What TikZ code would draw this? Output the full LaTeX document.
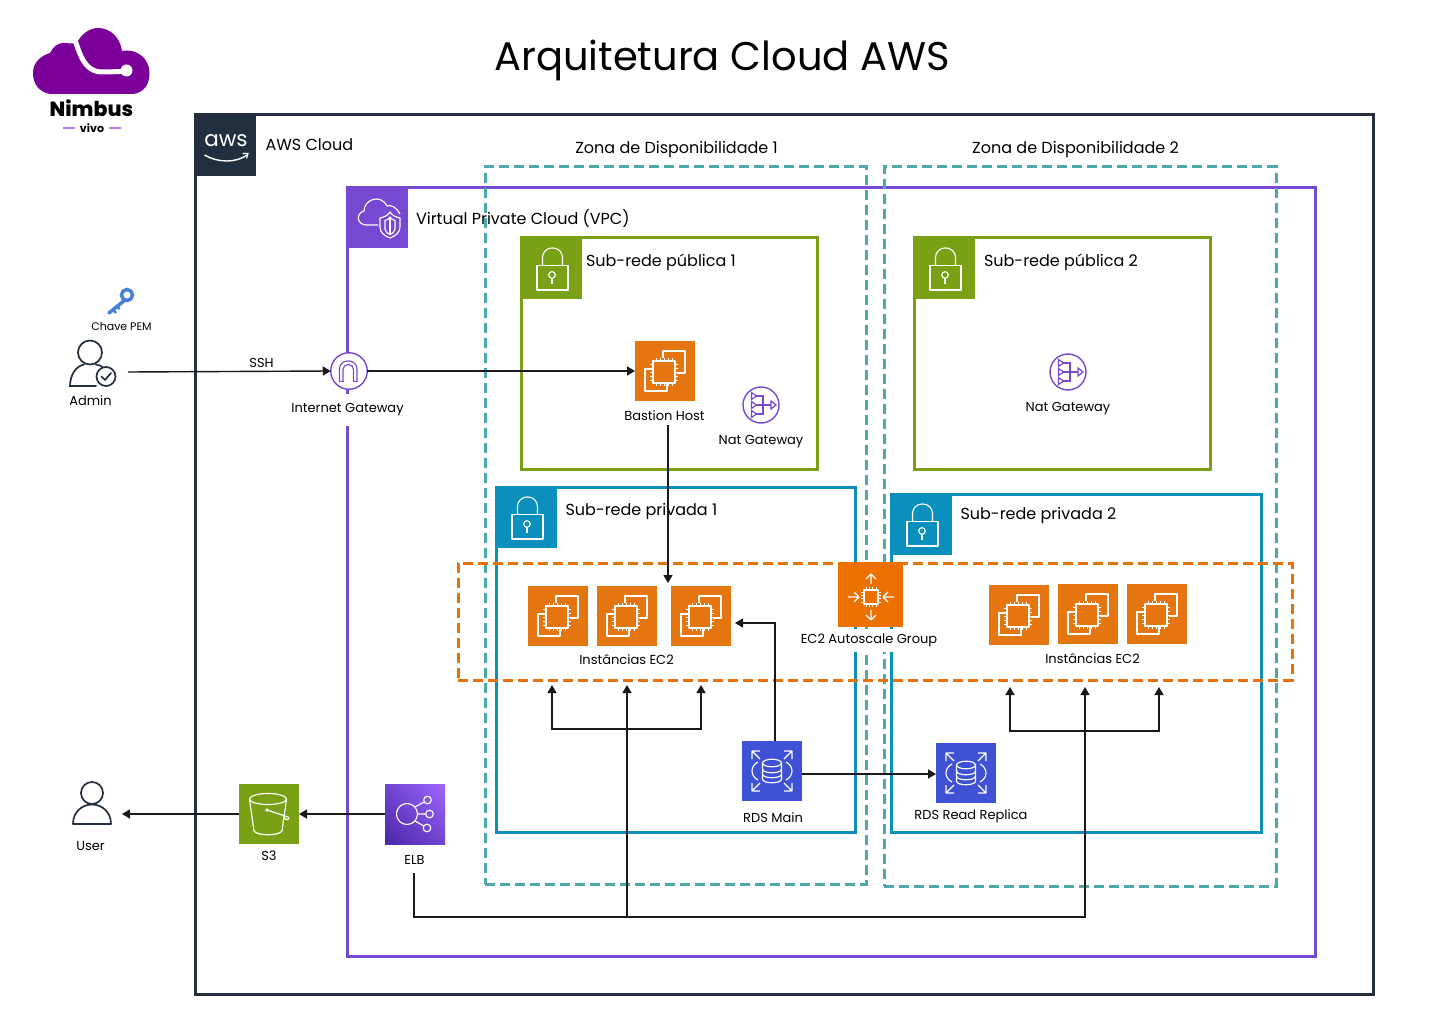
\documentclass[tikz,border=0pt]{standalone}
\usepackage{fontspec}
\setmainfont{Poppins}
\newfontfamily\nimbfont{Poppins ExtraBold}
\usetikzlibrary{arrows.meta,shadings}
\definecolor{awsdark}{HTML}{232F3E}
\definecolor{vpcpurple}{HTML}{7748D2}
\definecolor{aznteal}{HTML}{4CA9A8}
\definecolor{pubgreen}{HTML}{7AA116}
\definecolor{privblue}{HTML}{0B8FBD}
\definecolor{asgorange}{HTML}{E8710A}
\definecolor{ec2orange}{HTML}{E5750F}
\definecolor{asgicon}{HTML}{EC7100}
\definecolor{rdsblue}{HTML}{3F52D5}
\definecolor{logopurple}{HTML}{7B0099}
\definecolor{logolight}{HTML}{B97BDD}
\definecolor{keyblue}{HTML}{4A7FD6}
\definecolor{elbdark}{HTML}{4D27A8}
\definecolor{elbmid}{HTML}{7045D0}
\definecolor{elblight}{HTML}{A166FF}
\newcommand{\fs}[1]{\fontsize{#1}{#1}\selectfont}
\tikzset{
  frame/.style={rectangle,draw,line width=3pt,minimum width=#1,anchor=north west,inner sep=0pt,outer sep=0pt},
  dashbox/.style={rectangle,draw,line width=3pt,dash pattern=on 10pt off 5pt,minimum width=#1,anchor=north west,inner sep=0pt,outer sep=0pt},
  tile/.style={rectangle,minimum size=60pt,anchor=north west,inner sep=0pt,outer sep=0pt,draw=none},
  head/.style={rectangle,minimum size=61pt,anchor=north west,inner sep=0pt,outer sep=0pt,draw=none},
  round/.style={circle,draw=vpcpurple,fill=white,line width=1.4pt,minimum size=36.5pt,inner sep=0pt,outer sep=0pt},
  lbl/.style={inner sep=0pt,outer sep=0pt,font=\fs{13},text=black},
  biglbl/.style={inner sep=0pt,outer sep=0pt,font=\fs{16},text=black},
  masklbl/.style={inner sep=0pt,outer sep=0pt,font=\fs{13},text=black,fill=white,minimum height=#1},
  conn/.style={draw=black!90,line width=1.4pt,-{Triangle[length=8pt,width=9pt]}},
  glyph/.style={draw=white,line width=1.15pt,fill=none,line join=round},
  pics/lock/.style={code={
    \draw[glyph] (16,27.5) rectangle (47,52);
    \draw[glyph,rounded corners=9.5pt] (21.5,27.5)--(21.5,10)--(41.5,10)--(41.5,27.5);
    \draw[glyph] (31,37) circle[radius=3.3pt];
    \draw[glyph] (31,40.3)--(31,46);
  }},
  pics/chip/.style={code={
    \draw[glyph] (28,17)--(28,10)--(50,10)--(50,32)--(42,32);
    \draw[glyph] (18,28)--(10,28)--(10,50)--(32,50)--(32,43);
    \draw[glyph] (18,20) rectangle (40,42);
    \foreach \t in {21,25,29,33,37}{
      \draw[draw=white,line width=.8pt] (\t,17)--(\t,20);
      \draw[draw=white,line width=.8pt] (\t,42)--(\t,45);
    }
    \foreach \t in {23,27,31,35,39}{
      \draw[draw=white,line width=.8pt] (15,\t)--(18,\t);
      \draw[draw=white,line width=.8pt] (40,\t)--(43,\t);
    }
  }},
  pics/natg/.style={code={
    \draw[vpcpurple,line width=1.2pt] (-5,-9)--(2,-9)--(2,9)--(-5,9) (-5,0)--(10,0);
    \foreach \t in {-9,0,9}{
      \draw[vpcpurple,line width=1.2pt,fill=white] (-9.5,\t-3.5)--(-4.5,\t)--(-9.5,\t+3.5)--cycle;
    }
    \draw[vpcpurple,line width=1.2pt,fill=white] (10,-4)--(15,0)--(10,4)--cycle;
  }},
  pics/rdsglyph/.style={code={
    \draw[glyph] (20.5,22) -- (20.5,38) .. controls (20.5,43) and (39.5,43) .. (39.5,38) -- (39.5,22);
    \draw[glyph] (30,22) ellipse[x radius=9.5pt,y radius=3.8pt];
    \draw[glyph] (20.5,28) .. controls (20.5,33) and (39.5,33) .. (39.5,28);
    \draw[glyph] (20.5,33) .. controls (20.5,38) and (39.5,38) .. (39.5,33);
    \draw[glyph] (16,21) .. controls (8,25) and (8,35) .. (16,39);
    \draw[glyph] (44,21) .. controls (52,25) and (52,35) .. (44,39);
    \draw[glyph] (18,18)--(10,10) (10,18)--(10,10)--(18,10);
    \draw[glyph] (42,18)--(50,10) (50,18)--(50,10)--(42,10);
    \draw[glyph] (18,42)--(10,50) (10,42)--(10,50)--(18,50);
    \draw[glyph] (42,42)--(50,50) (50,42)--(50,50)--(42,50);
  }},
}
\begin{document}
\begin{tikzpicture}[x=1pt,y=-1pt]
\useasboundingbox (0,0) rectangle (1440,1024);
\fill[white] (0,0) rectangle (1440,1024);

% frames
\node[frame=1178pt,draw=awsdark,minimum height=879pt] (awsframe) at (195,115) {};
\node[frame=968pt,draw=vpcpurple,minimum height=769pt] (vpcframe) at (347,187.5) {};
\node[frame=296pt,draw=pubgreen,minimum height=231pt] (pub1) at (521,238) {};
\node[frame=296pt,draw=pubgreen,minimum height=231pt] (pub2) at (914,238) {};
\node[frame=359pt,draw=privblue,minimum height=345pt] (priv1) at (496,487) {};
\node[frame=370pt,draw=privblue,minimum height=338pt] (priv2) at (891,494) {};
\node[dashbox=381pt,draw=aznteal,minimum height=717pt] (az1) at (485,167) {};
\node[dashbox=392pt,draw=aznteal,minimum height=719pt] (az2) at (884,167) {};
\node[dashbox=834pt,draw=asgorange,minimum height=117pt] (asgbox) at (458,563) {};

% headers
\node[head,fill=awsdark] (awshead) at (195,115) {};
\node[inner sep=0pt,outer sep=0pt,text=white,font=\fs{21.5}] (awstxt) at (226,141) {aws};
\draw[white,line width=1.4pt] (204.5,155) .. controls (218,163) and (236,163) .. (247,155);
\draw[white,line width=1.2pt] (242.5,153.5)--(248,153.5)--(246.5,158.5);

\node[head,fill=vpcpurple] (vpchead) at (347,187) {};
\begin{scope}[shift={(347,187)}]
  \draw[glyph] (31,38)--(20,38) .. controls (9,38) and (9,26) .. (17,24) .. controls (17,13) and (33,6) .. (40,19) .. controls (44,17) and (50,21) .. (53,27);
  \draw[glyph,fill=vpcpurple] (33,31) .. controls (38,30) and (41,28) .. (43,25) .. controls (45,28) and (48,30) .. (53,31) -- (53,40) .. controls (53,46) and (48,49) .. (43,51) .. controls (38,49) and (33,46) .. (33,40) -- cycle;
  \draw[glyph] (38,33.5)--(38,42) .. controls (38,45) and (41,47) .. (43,47.5) .. controls (45,47) and (48,45) .. (48,42) -- (48,33.5) .. controls (46,33) and (44,32) .. (43,30) .. controls (42,32) and (40,33) .. (38,33.5) -- cycle;
  \draw[glyph] (43,31)--(43,47);
\end{scope}

\node[head,fill=pubgreen] (pub1head) at (521,238) {};
\pic at (521,238) {lock};
\node[head,fill=pubgreen] (pub2head) at (914,238) {};
\pic at (914,238) {lock};
\node[head,fill=privblue] (priv1head) at (496,487) {};
\pic at (496,487) {lock};
\node[head,fill=privblue] (priv2head) at (891,494) {};
\pic at (891,494) {lock};

% group titles
\node[lbl,font=\fs{40}] (title) at (722,60) {Arquitetura Cloud AWS};
\node[biglbl,anchor=west] (awslbl) at (265.5,145) {AWS Cloud};
\node[biglbl] (az1lbl) at (676.5,149.5) {Zona de Disponibilidade 1};
\node[biglbl] (az2lbl) at (1075.5,149.5) {Zona de Disponibilidade 2};
\node[biglbl,anchor=west] (vpclbl) at (416,219) {Virtual Private Cloud (VPC)};
\node[biglbl,anchor=west] (pub1lbl) at (586,262) {Sub-rede pública 1};
\node[biglbl,anchor=west] (pub2lbl) at (984,262) {Sub-rede pública 2};
\node[biglbl,anchor=west] (priv1lbl) at (565.5,511) {Sub-rede privada 1};
\node[biglbl,anchor=west] (priv2lbl) at (960.5,515) {Sub-rede privada 2};

% logo
\fill[logopurple] (50,94) .. controls (39,92) and (33,84) .. (33,73) .. controls (33,62) and (41,56) .. (50,53) .. controls (53,47) and (58,43) .. (63,43) .. controls (67,43) and (72,44) .. (77,43) .. controls (81,34) and (90,28) .. (98,28) .. controls (110,28) and (120,37) .. (122,51) .. controls (136,48) and (149,58) .. (149.5,72) .. controls (150,85) and (143,93) .. (133,94) -- cycle;
\draw[white,line width=5pt] (74.5,39) .. controls (79,50) and (83,72) .. (102,72) -- (124,71.5);
\fill[white] (126.5,70.5) circle[radius=6pt];
\node[lbl,font=\fs{20.5}\nimbfont] (nimbus) at (91.5,108) {Nimbus};
\node[lbl,font=\fs{11}\bfseries] (vivo) at (92,128) {vivo};
\draw[logolight,line width=1.5pt] (63,128)--(75,128) (109,128)--(121,128);

% icons
\node[tile,fill=ec2orange] (bastion) at (635,341) {};
\pic at (635,341) {chip};
\node[tile,fill=ec2orange] (ec2a) at (528,586) {};
\pic at (528,586) {chip};
\node[tile,fill=ec2orange] (ec2b) at (597,586) {};
\pic at (597,586) {chip};
\node[tile,fill=ec2orange] (ec2c) at (671,586) {};
\pic at (671,586) {chip};
\node[tile,fill=ec2orange] (ec2d) at (989,585) {};
\pic at (989,585) {chip};
\node[tile,fill=ec2orange] (ec2e) at (1058,584) {};
\pic at (1058,584) {chip};
\node[tile,fill=ec2orange] (ec2f) at (1127,584) {};
\pic at (1127,584) {chip};

\node[tile,minimum size=65pt,fill=asgicon] (asg) at (838,562) {};
\begin{scope}[shift={(871,597)}]
  \draw[glyph] (-7,-7) rectangle (7,7);
  \foreach \t in {-5,-1.7,1.7,5}{
    \draw[draw=white,line width=.9pt] (\t,-10)--(\t,-7) (\t,7)--(\t,10) (-10,\t)--(-7,\t) (7,\t)--(10,\t);
  }
  \draw[glyph] (0,-13)--(0,-23) (-5,-18)--(0,-23)--(5,-18);
  \draw[glyph] (0,13)--(0,23) (-5,18)--(0,23)--(5,18);
  \draw[glyph] (-23,0)--(-12,0) (-17,-5)--(-12,0)--(-17,5);
  \draw[glyph] (23,0)--(12,0) (17,-5)--(12,0)--(17,5);
\end{scope}

\node[tile,fill=rdsblue] (rdsm) at (742,741) {};
\pic at (742,741) {rdsglyph};
\node[tile,fill=rdsblue] (rdsr) at (936,743) {};
\pic at (936,743) {rdsglyph};

\node[tile,fill=pubgreen] (s3) at (239,784) {};
\begin{scope}[shift={(239,784)}]
  \draw[glyph] (29,15) ellipse[x radius=18.5pt,y radius=5.5pt];
  \draw[glyph] (10.5,15) -- (15,47) .. controls (18,52) and (40,52) .. (43,47) -- (47.5,15);
  \draw[glyph] (28,26)--(49,33) .. controls (51,34) and (50,36) .. (47,35.5) .. controls (45,35) and (44,33) .. (45,31.5);
  \fill[white] (28,26) circle[radius=1.8pt];
\end{scope}

\node[tile,shading=bilinear interpolation,lower left=elbdark,upper right=elblight,upper left=elbmid,lower right=elbmid] (elb) at (385,784) {};
\begin{scope}[shift={(385,784)}]
  \draw[glyph] (22,30) circle[radius=10.5pt];
  \draw[glyph] (42.5,16) circle[radius=3.8pt] (44.5,30) circle[radius=3.8pt] (42,44) circle[radius=3.8pt];
  \draw[glyph] (30,23)--(39,18) (32.5,30)--(40.7,30) (30,37)--(39,42);
\end{scope}

% nat gateways and internet gateway
\node[round,minimum size=36pt] (nat1) at (761,405) {};
\pic at (761,405) {natg};
\node[round,minimum size=36pt] (nat2) at (1068,372) {};
\pic at (1068,372) {natg};
\node[round] (igw) at (349,371) {};
\draw[vpcpurple,line width=1.1pt,rounded corners=8pt] (339.5,381.5)--(339.5,361)--(357,361)--(357,381.5);
\draw[vpcpurple,line width=1.1pt,rounded corners=5pt] (343,381.5)--(343,364.5)--(353.5,364.5)--(353.5,381.5);
\draw[vpcpurple,line width=1.1pt] (339,381.5)--(343.5,381.5) (353,381.5)--(357.5,381.5);

% people
\draw[awsdark,line width=1.7pt] (90,352.5) circle[radius=12pt];
\draw[awsdark,line width=1.7pt,line cap=round] (96,386)--(70,386) .. controls (70,375) and (76,366) .. (84,364.5) (96,364.5) .. controls (99,365) and (102,366) .. (104,368);
\node[circle,draw=awsdark,fill=white,line width=1.7pt,minimum size=19pt,inner sep=0pt] (adminbadge) at (106,376.5) {};
\draw[awsdark,line width=1.7pt,line cap=round,line join=round] (101.5,376.5)--(105,380)--(111,373);

\draw[awsdark,line width=1.7pt] (92,793) circle[radius=11pt];
\draw[awsdark,line width=1.7pt,line join=round] (73,824) .. controls (73,812) and (82,804.5) .. (92,804.5) .. controls (102,804.5) and (111,812) .. (111,824) -- cycle;

% key
\draw[keyblue,line width=3.5pt,line cap=round] (125,300)--(109,313);
\draw[keyblue,line width=2.5pt] (113,309.5)--(116,313) (117,306)--(119.5,309);
\draw[keyblue,line width=3.5pt] (127,295) circle[radius=5.5pt];

% texts with white backing
\node[masklbl=32pt] (igwlbl) at (347.5,410) {Internet Gateway};
\node[masklbl=23pt] (asglbl) at (869,640) {EC2 Autoscale Group};

% other labels
\node[lbl,font=\fs{11}] (pemlbl) at (121.5,326.5) {Chave PEM};
\node[lbl] (adminlbl) at (90.5,401) {Admin};
\node[lbl] (sshlbl) at (261.5,363) {SSH};
\node[lbl] (bastionlbl) at (664.5,416) {Bastion Host};
\node[lbl] (nat1lbl) at (761,441.5) {Nat Gateway};
\node[lbl] (nat2lbl) at (1068,408.5) {Nat Gateway};
\node[lbl] (ec2lbl1) at (626.5,660) {Instâncias EC2};
\node[lbl] (ec2lbl2) at (1092.5,659) {Instâncias EC2};
\node[lbl] (rdsmlbl) at (773,817.5) {RDS Main};
\node[lbl] (rdsrlbl) at (971,816.5) {RDS Read Replica};
\node[lbl] (s3lbl) at (269,856) {S3};
\node[lbl] (elblbl) at (414.5,860) {ELB};
\node[lbl] (userlbl) at (90.5,846) {User};

% free connector ends
\coordinate (adminout) at (128,372);
\coordinate (bastout) at (668,425);
\coordinate (bastin) at (668,583);
\coordinate (userin) at (122,814);
\coordinate (elbout) at (414,873);
\coordinate (trunk) at (1085,917);
\coordinate (trunkmid) at (627,917);
\coordinate (feedmid) at (627,685);
\coordinate (feedr) at (1085,687);
\coordinate (fa) at (552,685);
\coordinate (fc) at (701,685);
\coordinate (fab) at (552,729);
\coordinate (fd) at (1010,687);
\coordinate (ff) at (1159,687);
\coordinate (fdb) at (1010,731);

% connectors
\draw[conn] (adminout) -- (igw.west);
\draw[conn] (igw.east) -- (bastion.west);
\draw[conn] (bastout) -- (bastin);
\draw[conn] ([xshift=3pt]rdsm.north) |- ([xshift=4pt,yshift=-7pt]ec2c.east);
\draw[conn] ([yshift=-3pt]rdsm.east) -- ([yshift=-1pt]rdsr.west);
\draw[conn] (elb.west) -- (s3.east);
\draw[conn] (s3.west) -- (userin);
\draw[conn] (elbout) |- (trunk) -- (feedr);
\draw[conn] (trunkmid) -- (feedmid);
\draw[conn,{Triangle[length=8pt,width=9pt]}-{Triangle[length=8pt,width=9pt]}] (fa) -- (fab) -| (fc);
\draw[conn,{Triangle[length=8pt,width=9pt]}-{Triangle[length=8pt,width=9pt]}] (fd) -- (fdb) -| (ff);
\end{tikzpicture}
\end{document}
